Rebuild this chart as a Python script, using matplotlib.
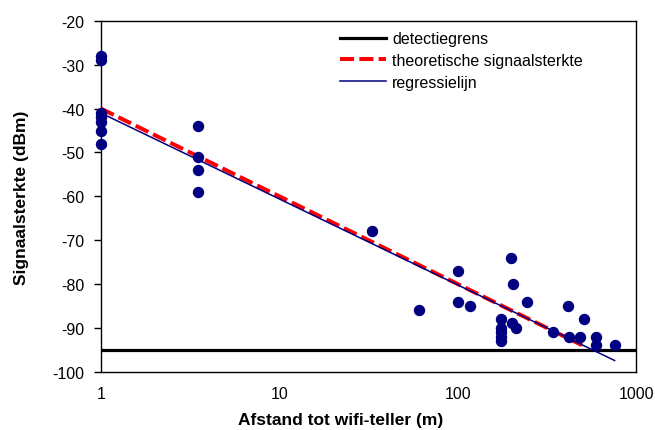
import numpy as np
import matplotlib
matplotlib.use("Agg")
import matplotlib.pyplot as plt
from matplotlib.ticker import FixedLocator, NullLocator, FixedFormatter

plt.rcParams['font.family'] = ['Liberation Sans', 'DejaVu Sans']
plt.rcParams['axes.unicode_minus'] = False

# measured data
distance = [1, 1, 1, 1, 1, 1, 1,
            3.5, 3.5, 3.5, 3.5,
            33, 61, 100, 100, 118,
            175, 175, 175, 175, 175,
            200, 205, 201, 212, 244,
            343, 415, 422, 483, 512, 596, 600, 759]
signal = [-28, -29, -41, -42, -43, -45, -48,
          -44, -51, -54, -59,
          -68, -86, -77, -84, -85,
          -88, -90, -91, -92, -93,
          -74, -80, -89, -90, -84,
          -91, -85, -92, -92, -88, -92, -94, -94]

detection_limit = -95
theory_x = [1, 510]
theory_y = [-40, -40 - 20 * np.log10(510)]
regr_x = [1, 759]
regr_y = [-41, -41 - 19.6 * np.log10(759)]

x_ticks = [1, 10, 100, 1000]
x_labels = ['1', '10', '100', '1000']
y_ticks = list(range(-100, -19, 10))

fig = plt.figure(figsize=(6.55, 4.31), dpi=100)
ax = fig.add_axes([0.1542, 0.1353, 0.8168, 0.8137])

ax.plot([1, 1000], [detection_limit, detection_limit], color='black', lw=2.3,
        label='detectiegrens', zorder=2)
ax.plot(theory_x, theory_y, color='#ff0000', lw=2.9, ls=(0, (3.5, 1.3)),
        label='theoretische signaalsterkte', zorder=3)
ax.plot(regr_x, regr_y, color='#000080', lw=1.1, label='regressielijn', zorder=4)
ax.plot(distance, signal, 'o', color='#000080', ms=7.2, mec='#000080', zorder=5,
        clip_on=False)

ax.set_xscale('log')
ax.set_xlim(1, 1000)
ax.set_ylim(-100, -20)
ax.xaxis.set_major_locator(FixedLocator(x_ticks))
ax.xaxis.set_major_formatter(FixedFormatter(x_labels))
ax.xaxis.set_minor_locator(NullLocator())
ax.set_yticks(y_ticks)
ax.tick_params(axis='x', length=0, pad=10, labelsize=11.5)
ax.tick_params(axis='y', direction='out', length=5, width=1, pad=7, labelsize=11.5)
for s in ax.spines.values():
    s.set_linewidth(1)
    s.set_color('black')

ax.set_xlabel('Afstand tot wifi-teller (m)', fontsize=12.5, fontweight='bold', labelpad=8)
ax.xaxis.set_label_coords(0.447, -0.114)
ax.set_ylabel('Signaalsterkte (dBm)', fontsize=12.5, fontweight='bold', labelpad=17)

leg = ax.legend(loc='upper left', bbox_to_anchor=(0.42, 1.012), frameon=False,
                fontsize=11.5, handlelength=2.9, handletextpad=0.35,
                labelspacing=0.43)

fig.savefig('out.png', dpi=100)
